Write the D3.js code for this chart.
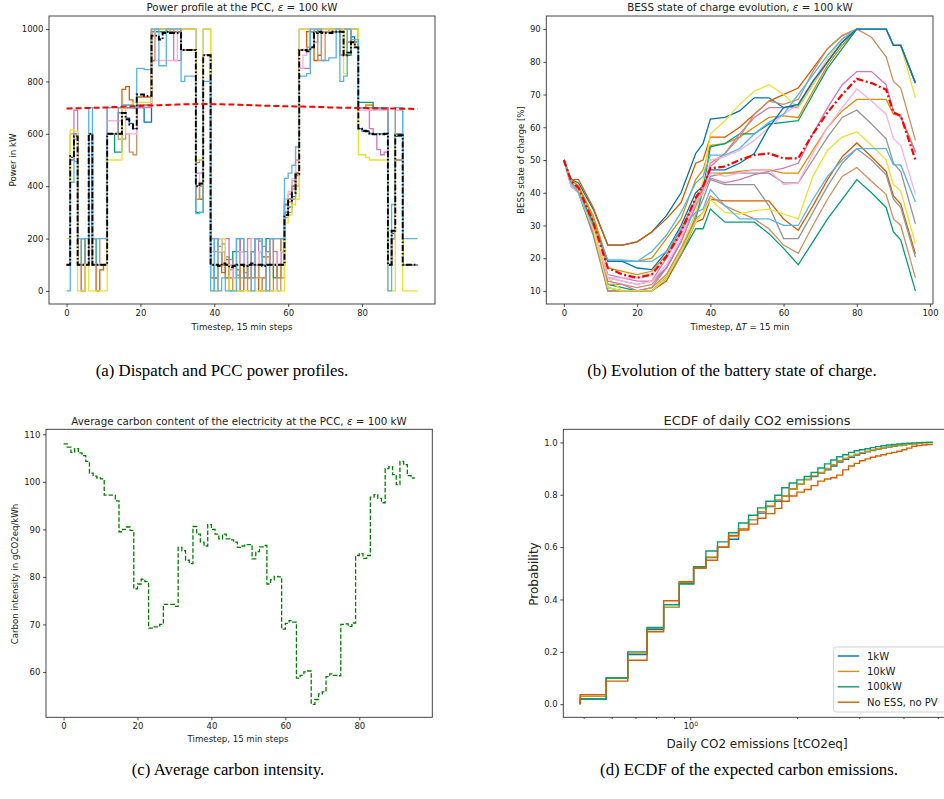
<!DOCTYPE html>
<html>
<head>
<meta charset="utf-8">
<script src="https://cdn.jsdelivr.net/npm/d3@7"></script>
<style>
  body { margin: 0; background: #fff; }
  svg text { font-family: "DejaVu Sans", sans-serif; fill: #222; }
  .cap { font-family: "Liberation Serif", serif; font-size: 16.8px; fill: #000; }
</style>
</head>
<body>
<svg id="fig" width="944" height="799"></svg>
<script>
// seaborn "colorblind" palette
var palette = ['#0173b2', '#de8f05', '#029e73', '#d55e00', '#cc78bc', '#ca9161', '#fbafe4', '#949494', '#ece133', '#56b4e9'];

// ---- (a) power at the PCC, 96 quarter-hour steps ----
var pccBlue = [100,510,590,100,100,100,600,100,100,100,100, 600,600,600,680,680,660,640,620,700,700,645,645, 990,990,990,990,990,990,990,990,920,920,920,920, 400,410,900,900, 100,100,150,100,50,100,100,100,150,100,100,100,100,150,100,100,100,100,100,100, 330,350,400,450, 920,920,920,930,990,990,990,990,990,990,990,900,900,950,970,930, 620,610,610,600,600,600,600,600, 100,220,590,590, 100,100,100,100,100];
var pccOrange = [100,500,590,100,100,100,600,100,100,100,100, 600,600,600,600,700,700,700,700,710,710,710,710, 880,1000,1000,1000,1000,990,990,990,920,920,920,920, 400,400,900,900, 100,50,150,100,50,0,100,50,100,100,0,100,50,100,100,150,0,100,100,50, 300,340,390,440, 920,920,930,990,990,990,990,990,990,1000,1000,1000,900,1000,950,930, 700,700,710,710,700,700,700,700, 100,200,600,600, 100,100,100,100,100];
var pccGreen = [100,500,600,100,200,100,600,200,100,100,100, 600,600,530,530,700,700,700,700,740,740,740,740, 990,990,990,990,990,990,990,990,920,920,920,920, 300,300,900,900, 100,50,200,150,100,100,150,200,100,50,100,150,200,200,130,200,100,50,100,200, 300,320,360,450, 920,920,920,990,990,990,990,990,990,990,990,990,900,900,950,950, 720,720,720,720,700,700,700,700, 100,200,600,600, 100,100,100,100,100];
var pccVermilion = [100,500,590,100,0,100,600,100,0,80,100, 600,600,600,600,770,780,730,700,740,740,740,740, 880,1000,1000,1000,990,990,990,990,920,920,920,920, 400,350,900,900, 50,0,100,70,120,50,100,80,0,100,50,50,100,0,50,130,100,100,50,150, 330,350,400,450, 920,920,990,990,880,900,990,990,990,990,990,1000,1000,1000,950,950, 700,700,700,700,700,700,700,700, 100,200,600,600, 100,100,100,100,100];
var pccPurple = [100,600,690,100,0,100,600,100,100,100,100, 700,700,700,700,700,700,700,700,700,700,700,700, 1000,1000,1000,1000,1000,1000,880,880,1000,1000,1000,1000, 450,450,900,900, 200,150,100,200,200,100,100,150,200,100,50,100,200,150,100,100,200,150,100,100, 350,370,420,500, 850,850,850,930,1000,1000,990,990,1000,1000,1000,1000,1000,1000,1000,1000, 700,700,700,620,600,540,520,530, 100,200,500,500, 100,100,100,100,100];
var pccTan = [100,500,580,100,100,100,600,200,200,100,100, 600,600,600,580,580,600,530,520,740,740,740,740, 1000,1000,1000,1000,1000,1000,1000,1000,920,920,920,920, 350,400,900,900, 100,50,100,150,100,80,50,0,100,100,200,150,100,50,0,100,200,100,0,200, 280,300,350,400, 920,920,930,1000,1000,880,880,990,990,1000,1000,900,900,950,950,950, 700,700,700,700,700,700,700,700, 100,200,500,500, 100,100,100,100,100];
var pccPink = [100,500,590,100,100,100,600,100,100,100,100, 650,650,650,650,700,600,600,600,720,720,720,720, 1000,880,880,880,880,880,880,1000,1000,1000,1000,1000, 400,450,900,900, 150,100,200,150,100,100,50,100,150,100,100,200,100,150,100,150,100,100,100,150, 350,380,430,550, 850,900,920,1000,1000,1000,1000,1000,1000,1000,1000,1000,1000,1000,1000,1000, 690,690,690,690,690,690,690,690, 100,200,690,690, 100,100,100,100,100];
var pccGrey = [100,500,600,100,200,100,600,100,100,100,100, 600,600,600,700,700,700,700,700,710,710,710,710, 1000,1000,1000,1000,1000,1000,1000,1000,1000,1000,1000,1000, 490,500,1000,1000, 200,200,170,180,130,120,100,60,50,70,100,150,200,190,170,150,100,200,200,200, 300,350,400,450, 1000,1000,1000,990,950,1000,1000,1000,1000,1000,1000,1000,1000,1000,1000,1000, 700,700,700,700,700,700,700,700, 100,200,600,600, 100,100,100,100,100];
var pccYellow = [200,615,610,0,0,100,0,0,0,0,0, 500,500,500,500,700,710,710,720,720,720,720,720, 1000,1000,1000,1000,1000,1000,1000,1000,1000,1000,1000,1000, 500,500,1000,1000, 0,0,150,200,100,0,0,0,0,0,0,0,0,0,0,0,0,0,0,0, 260,290,330,350, 1000,1000,1000,1000,1000,1000,1000,1000,1000,1000,1000,1000,830,1000,1000,1000, 520,520,510,500,500,500,500,500, 0,0,700,700, 0,0,0,0,0];
var pccLightBlue = [0,415,495,200,200,200,700,200,200,200,200, 700,700,700,700,710,710,710,700,850,850,845,845, 1000,1000,860,860,1000,1000,1000,1000,800,820,820,820, 295,300,800,800, 0,200,0,50,0,0,0,200,200,150,100,0,200,200,100,0,200,200,200,200, 430,450,480,550, 820,820,830,1000,1000,1000,880,880,890,890,1000,800,820,1000,960,960, 700,700,700,700,695,695,695,700, 0,330,700,700, 200,200,200,200,200];
var pccMean = [100,515,590,100,100,100,600,100,100,100,100, 600,600,600,600,680,655,635,620,750,750,745,745, 975,975,960,985,990,985,985,985,920,920,920,920, 400,410,900,900, 100,100,95,105,100,90,95,100,100,95,100,105,100,100,95,100,100,100,100,100, 290,345,375,445, 920,920,915,930,985,990,985,985,985,990,990,990,900,910,950,930, 620,612,610,600,598,598,598,600, 100,230,595,595, 100,100,100,100,100];
var pccLimit = [697,697,698,698,698,699,699,699,700,700,701,701, 702,702,703,703,704,704,705,706,706,707,708,708, 709,709,710,710,711,711,712,712,713,713,713,714, 714,714,714,714,713,713,713,712,712,712,711,711, 710,710,709,709,708,708,707,707,706,706,706,705, 705,705,704,704,704,703,703,703,702,702,702,701, 701,701,700,700,700,700,699,699,699,699,698,698, 698,698,697,697,697,697,696,696,696,696,695,695];
var pccXTicks = [0, 20, 40, 60, 80];
var pccYTicks = [0, 200, 400, 600, 800, 1000];

// ---- (b) battery state of charge ----
var socT = [0,2,4,8,12,16,20,24,28,32,36,38,40,44,48,52,56,60,64,68,72,76,80,84,88,90,92,96];
var socBlueHi = [50,44,43,35,24,24,25,28,33,40,52,55,62.5,63,65,69,69,66,66.5,74,80,86,90,90,90,85,85,73.5];
var socOrangeHi = [50,44,42,33,19,19,19,20,26,32,44,47,54.5,55,57,60,63,63.5,63,71,79,85,90,90,90,85,85,73.5];
var socGreenHi = [50,43,40,30,12,11,10,10,14,22,32,41,54,55,58,58,61,61.5,62,70,78,84,90,90,90,85,85,73.5];
var socVermHi = [50,44,44,35.5,24,24,25,28,32,37,49,50,57,57,60,64,68,70,72,78,84,88,90,90,90,85,85,73.5];
var socPurpleHi = [50,42,40,28,15,14,13,13,20,28,38,42,48,52,58,63,66,66,66,73,80,86,90,90,90,85,85,73.5];
var socTanHi = [50,43,41,30,12,12,11,12,17,25,36,40,49,52,57,64,68,67,68.5,77,84,88,90,87.5,81.5,74,72,56];
var socPinkHi = [50,42,40,29,14,14,14,15,20,27,38,41,50,51,53,56,60,64,67,74,81,87,90,90,90,85,85,73.5];
var socGreyMid = [50,42,40,27.5,14,13,12,13,17,25,37,40,45,46,46,46,46,43,43,50,57,63,65.3,61,56.5,49,46.5,30.5];
var socYellowHi = [50,44,41,30,14,10,10,10,15,23,34,44,58,62,67,71,73,70,66,73,81,87,90,90,90,85,85,69];
var socLightHi = [50,42,40,31,19,19,19,22,27,34,43,45,51.5,51.5,53.5,58,61.5,64,70,76,82,87,90,90,90,85,85,73.5];
var socBlueMid = [50,43,40,31,19,19,17,16.5,22,30,40,42,47,47,49,52,60,66,67,74,80,86,90,90,90,85,85,73.5];
var socOrangeMid = [50,44,42,32,17,16,15,16,21,29,38,41,46,46,46.5,47,47,46,46,53,60,65,68.5,68.5,68.5,64,63.5,52.5];
var socGreenLo = [50,43,40,29,11,10,10,10,14,21,29,29,35,31,31,31,27.5,23,18,25,32,38,44,40,35.5,28,25.5,10];
var socVermLo = [50,43,40,29,10,10,10,10,13,21,31,32,38,37.5,37.5,37.5,37.5,32,28.5,36,44,51,55.2,51,46.5,39,36.5,21.3];
var socPurpleMid = [50,43,40,28,13,12,10,11,17,25,36,41,44.5,43,44,45.5,46.5,47.5,49,58,66,73,77,77,73,65,63,52.3];
var socTanLo = [50,43,40,29,10,10,10,11,15,23,32,34,39,36,34,32,29,24,21.5,30,38,45,47.7,43.5,39.5,32,30,14];
var socPinkMid = [50,42,40,29,14,13,12,13,18,26,37,40,46,45,46,47,47,42.5,43,52,60,66,71.7,68,64,56.5,54.5,39.5];
var socGreyLo = [50,43,40,27,10,10,10,10,14,21,33,38,44,42.5,42.5,42.5,36,26,26,34,42,49,53.5,50,45.5,38,35.5,20.3];
var socYellowLo = [50,43,40,29,11,10,10,10,14,22,31,34,38,34,33.5,34.5,35,33.5,32,45,53,57,58.6,54.5,50,42.5,40.5,24.4];
var socLightLo = [50,43,40,30,19.5,19.5,19,19,22,29,34,35,41,36,32,32,32,30,30,38,45,50,53.5,53.5,53.5,48.5,48.5,37.2];
var socMean = [50,43.5,41.5,31,17,15,14,15,20.5,28,38.5,42,47.5,48,50,51.5,52,50.5,50.5,58,64.5,70,74.8,73.5,71.5,64.5,63.5,50];
var socXTicks = [0, 20, 40, 60, 80, 100];
var socYTicks = [10, 20, 30, 40, 50, 60, 70, 80, 90];

// ---- (c) average carbon intensity ----
var carbon = [108,107.3,106.2,107,106.1,105.5,104.3,101.8,101.2,100.8,100.6,
  97.2,97.2,97.2,96,89.5,90,90.5,89.8,77.5,78.5,79.5,
  79,69.2,69.5,69.5,70,74.2,74.2,74.2,73.8,86.2,85.5,
  83.5,82.8,90.6,89,87.3,86.5,91,90,89,88,89,
  88,87.8,87.3,86.2,86.5,86.8,86.8,83.8,85.3,86.3,86.6,
  78.5,79.4,80.1,80,69,70.2,70.8,70.5,58.7,59.3,60,
  60.2,53.2,54.2,55.4,55.8,59,59.6,59.3,59.2,70,70.1,
  69.6,70.3,84.5,84.9,83.9,84.5,96.8,97.3,96.5,95.6,102.8,
  103.2,101.5,99.4,104.3,103.6,101.3,100.8,100.8];
var carbonXTicks = [0, 20, 40, 60, 80];
var carbonYTicks = [60, 70, 80, 90, 100, 110];

// ---- (d) ECDF of daily emissions ----
var ecdfX = [0.489,0.579,0.666,0.755,0.841,0.931,1.022,1.107,1.194,1.283,1.369,1.461,1.549,1.635,1.733,1.813,1.902,2.0,2.098,2.194,2.292,2.394,2.494,2.593,2.696,2.799,2.904,3.006,3.116,3.225,3.337,3.456,3.579,3.706,3.833,3.961,4.087,4.222,4.361,4.508,4.658,4.838];
var ecdf1kW = [0.02,0.10,0.19,0.285,0.37,0.46,0.52,0.56,0.60,0.63,0.67,0.705,0.73,0.755,0.775,0.795,0.822,0.84,0.858,0.87,0.883,0.895,0.91,0.925,0.935,0.943,0.952,0.958,0.964,0.969,0.974,0.978,0.982,0.985,0.988,0.991,0.993,0.995,0.997,0.999,1.0];
var ecdf10kW = [0.03,0.10,0.195,0.29,0.37,0.465,0.52,0.562,0.60,0.64,0.67,0.705,0.735,0.757,0.78,0.795,0.822,0.84,0.858,0.872,0.885,0.9,0.915,0.93,0.94,0.947,0.955,0.961,0.966,0.971,0.975,0.979,0.983,0.986,0.989,0.991,0.993,0.995,0.997,0.998,0.999];
var ecdf100kW = [0.02,0.10,0.20,0.293,0.38,0.46,0.525,0.585,0.62,0.655,0.692,0.722,0.75,0.775,0.798,0.827,0.845,0.857,0.87,0.885,0.902,0.918,0.933,0.945,0.953,0.962,0.968,0.972,0.976,0.98,0.984,0.987,0.99,0.992,0.994,0.996,0.997,0.998,0.999,1.0,1.0];
var ecdfNoEss = [0.036,0.088,0.168,0.277,0.395,0.468,0.52,0.55,0.60,0.645,0.665,0.688,0.71,0.728,0.748,0.775,0.795,0.81,0.82,0.835,0.852,0.86,0.865,0.875,0.895,0.91,0.92,0.93,0.937,0.943,0.948,0.953,0.958,0.962,0.966,0.972,0.978,0.985,0.988,0.99,0.992];
var ecdfNames = ['1kW', '10kW', '100kW', 'No ESS, no PV'];
var ecdfYTicks = [0, 0.2, 0.4, 0.6, 0.8, 1.0];
var ecdfMinorTicks = [0.5, 0.6, 0.7, 0.8, 0.9, 2, 3, 4, 5];

var svg = d3.select('#fig');

function styleAxis(g, fs) {
  g.attr('font-family', '"DejaVu Sans", sans-serif').attr('font-size', fs);
  g.select('.domain').remove();
  g.selectAll('.tick line').attr('stroke', '#222').attr('stroke-width', 0.8);
  g.selectAll('.tick text').attr('fill', '#222');
}

function frame(x0, y0, x1, y1) {
  svg.append('rect')
    .attr('x', x0).attr('y', y0).attr('width', x1 - x0).attr('height', y1 - y0)
    .attr('fill', 'none').attr('stroke', '#333').attr('stroke-width', 0.9);
}

function bottomAxis(scale, yPos, ticks, fmt, fs) {
  var g = svg.append('g').attr('transform', 'translate(0,' + yPos + ')')
    .call(d3.axisBottom(scale).tickValues(ticks).tickFormat(fmt).tickSize(3).tickPadding(2.6));
  styleAxis(g, fs);
  return g;
}

function leftAxis(scale, xPos, ticks, fmt, fs) {
  var g = svg.append('g').attr('transform', 'translate(' + xPos + ',0)')
    .call(d3.axisLeft(scale).tickValues(ticks).tickFormat(fmt).tickSize(3).tickPadding(2.6));
  styleAxis(g, fs);
  return g;
}

function label(text, x, y, fs) {
  return svg.append('text').attr('x', x).attr('y', y).attr('text-anchor', 'middle')
    .attr('font-size', fs).text(text);
}

function ylabel(text, x, y, fs) {
  svg.append('text').attr('transform', 'translate(' + x + ',' + y + ') rotate(-90)')
    .attr('text-anchor', 'middle').attr('font-size', fs).text(text);
}

function epsTitle(pre, x, y, fs) {
  var t = svg.append('text').attr('x', x).attr('y', y).attr('text-anchor', 'middle').attr('font-size', fs);
  t.append('tspan').text(pre);
  t.append('tspan').attr('font-style', 'italic').text('ε');
  t.append('tspan').text(' = 100 kW');
}

function caption(text, x, y) {
  svg.append('text').attr('class', 'cap').attr('x', x).attr('y', y).attr('text-anchor', 'middle').text(text);
}

var fmtInt = d3.format('d');

// ================= (a) =================
var xA = d3.scaleLinear().domain([-4.75, 99.75]).range([49, 435]);
var yA = d3.scaleLinear().domain([-50, 1050]).range([304, 16]);
var stepA = d3.line().x(function(d, i) { return xA(i); }).y(function(d) { return yA(d); }).curve(d3.curveStepAfter);

var pccSeries = [pccBlue, pccOrange, pccGreen, pccVermilion, pccPurple, pccTan, pccPink, pccGrey, pccYellow, pccLightBlue];
pccSeries.forEach(function(s, k) {
  svg.append('path').attr('d', stepA(s)).attr('fill', 'none')
    .attr('stroke', palette[k]).attr('stroke-width', 1.3);
});
svg.append('path').attr('d', stepA(pccMean)).attr('fill', 'none')
  .attr('stroke', '#000').attr('stroke-width', 1.9).attr('stroke-dasharray', '6,2,1.5,2');
svg.append('path')
  .attr('d', d3.line().x(function(d, i) { return xA(i); }).y(function(d) { return yA(d); })(pccLimit))
  .attr('fill', 'none').attr('stroke', '#ff0000').attr('stroke-width', 2).attr('stroke-dasharray', '6,3');

frame(49, 16, 435, 304);
bottomAxis(xA, 304, pccXTicks, fmtInt, 8.5);
leftAxis(yA, 49, pccYTicks, fmtInt, 8.5);
epsTitle('Power profile at the PCC, ', 242, 11, 10.3);
label('Timestep, 15 min steps', 242, 330, 8.6);
ylabel('Power in kW', 15.5, 160, 8.6);

// ================= (b) =================
var xB = d3.scaleLinear().domain([-4.8, 100.8]).range([546.3, 933]);
var yB = d3.scaleLinear().domain([6, 94]).range([304, 16]);
var lineB = d3.line().x(function(d, i) { return xB(socT[i]); }).y(function(d) { return yB(d); });

var socSeries = [socBlueHi, socOrangeHi, socGreenHi, socVermHi, socPurpleHi, socTanHi, socPinkHi, socGreyMid, socYellowHi, socLightHi,
                 socBlueMid, socOrangeMid, socGreenLo, socVermLo, socPurpleMid, socTanLo, socPinkMid, socGreyLo, socYellowLo, socLightLo];
socSeries.forEach(function(s, k) {
  svg.append('path').attr('d', lineB(s)).attr('fill', 'none')
    .attr('stroke', palette[k % 10]).attr('stroke-width', 1.3);
});
svg.append('path').attr('d', lineB(socMean)).attr('fill', 'none')
  .attr('stroke', '#ff0000').attr('stroke-width', 2.2).attr('stroke-dasharray', '7,2.5,2,2.5');

frame(546.3, 16, 933, 304);
bottomAxis(xB, 304, socXTicks, fmtInt, 8.5);
leftAxis(yB, 546.3, socYTicks, fmtInt, 8.5);
epsTitle('BESS state of charge evolution, ', 740, 11, 10.3);
var tb = svg.append('text').attr('x', 740).attr('y', 330).attr('text-anchor', 'middle').attr('font-size', 8.6);
tb.append('tspan').text('Timestep, Δ');
tb.append('tspan').attr('font-style', 'italic').text('T');
tb.append('tspan').text(' = 15 min');
ylabel('BESS state of charge [%]', 524, 160, 8.6);

// ================= (c) =================
var xC = d3.scaleLinear().domain([-4.75, 99.75]).range([46, 432.3]);
var yC = d3.scaleLinear().domain([50.46, 111.05]).range([717.3, 429.3]);
var stepC = d3.line().x(function(d, i) { return xC(i); }).y(function(d) { return yC(d); }).curve(d3.curveStepAfter);
svg.append('path').attr('d', stepC(carbon)).attr('fill', 'none')
  .attr('stroke', '#008000').attr('stroke-width', 1.3).attr('stroke-dasharray', '4.5,2');

frame(46, 429.3, 432.3, 717.3);
bottomAxis(xC, 717.3, carbonXTicks, fmtInt, 8.5);
leftAxis(yC, 46, carbonYTicks, fmtInt, 8.5);
epsTitle('Average carbon content of the electricity at the PCC, ', 239, 424.5, 10.3);
label('Timestep, 15 min steps', 238, 742, 8.6);
ylabel('Carbon intensity in gCO2eq/kWh', 18, 574, 8.6);

// ================= (d) =================
var xD = d3.scaleLog().domain([0.438, 5.437]).range([563.3, 950.7]);
var yD = d3.scaleLinear().domain([-0.05, 1.05]).range([717.3, 429.3]);
var stepD = d3.line().x(function(d) { return xD(d[0]); }).y(function(d) { return yD(d[1]); }).curve(d3.curveStepAfter);

var ecdfSeries = [ecdf1kW, ecdf10kW, ecdf100kW, ecdfNoEss];
var ecdfColors = [palette[0], palette[1], palette[2], palette[3]];
ecdfSeries.forEach(function(p, k) {
  var pts = [[ecdfX[0], 0]];
  ecdfX.forEach(function(x, i) { pts.push([x, p[Math.min(i, p.length - 1)]]); });
  svg.append('path').attr('d', stepD(pts)).attr('fill', 'none')
    .attr('stroke', ecdfColors[k]).attr('stroke-width', 1.4);
});

frame(563.3, 429.3, 950.7, 717.3);
leftAxis(yD, 563.3, ecdfYTicks, d3.format('.1f'), 8.5);
var gx = bottomAxis(xD, 717.3, [1], function() { return ''; }, 8.5);
gx.select('.tick text').text('10').append('tspan').attr('dy', '-0.45em').attr('font-size', 6).text('0');
var gm = svg.append('g').attr('transform', 'translate(0,717.3)')
  .call(d3.axisBottom(xD).tickValues(ecdfMinorTicks).tickFormat('').tickSize(1.8));
styleAxis(gm, 8.5);

label('ECDF of daily CO2 emissions', 757, 424.7, 13);
label('Daily CO2 emissions [tCO2eq]', 757, 748, 12);
ylabel('Probability', 538, 574, 12);

var leg = svg.append('g');
leg.append('rect').attr('x', 833.7).attr('y', 647).attr('width', 130).attr('height', 65).attr('rx', 2.5)
  .attr('fill', '#fff').attr('fill-opacity', 0.8).attr('stroke', '#ccc').attr('stroke-width', 0.9);
ecdfNames.forEach(function(n, k) {
  var yy = 656 + k * 15.4;
  leg.append('line').attr('x1', 837.7).attr('x2', 859.3).attr('y1', yy).attr('y2', yy)
    .attr('stroke', ecdfColors[k]).attr('stroke-width', 1.4);
  leg.append('text').attr('x', 867).attr('y', yy + 3.6).attr('font-size', 10).text(n);
});

// ---- captions ----
caption('(a) Dispatch and PCC power profiles.', 222, 376);
caption('(b) Evolution of the battery state of charge.', 732, 376);
caption('(c) Average carbon intensity.', 228, 775);
caption('(d) ECDF of the expected carbon emissions.', 749, 775);
</script>
</body>
</html>
